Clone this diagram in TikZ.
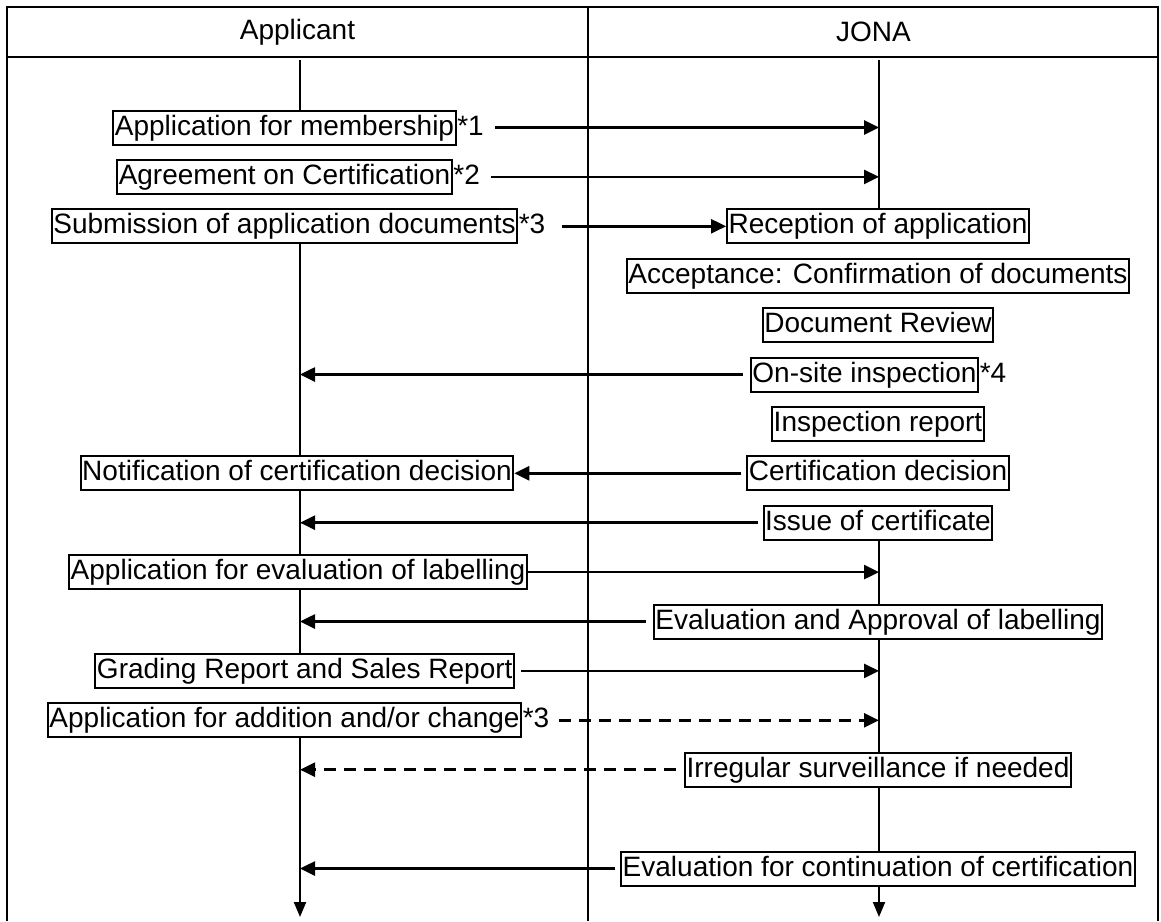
\documentclass[tikz,border=0pt]{standalone}
\usepackage{fontspec}
\setmainfont{Liberation Sans}
\usetikzlibrary{arrows.meta}
\begin{document}
\begin{tikzpicture}[x=1pt,y=-1pt,
  every node/.style={font=\fontsize{28}{34}\selectfont},
  bx/.style={draw, line width=2pt, inner xsep=1.5pt, inner ysep=2.5pt, text height=22pt, text depth=7pt},
  plain/.style={inner sep=0pt, text height=22pt, text depth=7pt},
  frame/.style={line width=2.5pt},
  life/.style={line width=1.8pt},
  msg/.style={line width=2.6pt, -{Triangle[length=15pt,width=14pt]}},
  dmsg/.style={msg, dash pattern=on 12pt off 8pt},
  endarrow/.style={line width=2pt, -{Triangle[length=15pt,width=12pt]}}]
\useasboundingbox (0,0) rectangle (1161,921);
% table frame
\draw[frame] (7,921) -- (7,7) -- (1158,7) -- (1158,921);
\draw[frame] (7,57) -- (1158,57);
\draw[frame] (588,7) -- (588,921);
\node (hA) at (297.5,32) {Applicant};
\node (hJ) at (873.5,32) {JONA};
% lifeline tops
\coordinate (Atop) at (300,60);
\coordinate (Jtop) at (879,60);
\coordinate (Abot) at (300,917);
\coordinate (Jbot) at (879,917);
% left boxes
\node[bx] (mem) at (284.5,127.5) {Application for membership};
\node[plain,anchor=west] (mem1) at ([xshift=0.5pt]mem.east) {*1};
\node[bx] (agr) at (284.5,176.9) {Agreement on Certification};
\node[plain,anchor=west] (agr2) at ([xshift=0.5pt]agr.east) {*2};
\node[bx] (sub) at (284.5,226.3) {Submission of application documents};
\node[plain,anchor=west] (sub3) at ([xshift=0.5pt]sub.east) {*3};
\node[bx] (notif) at (297,473.3) {Notification of certification decision};
\node[bx] (appeval) at (298,572.1) {Application for evaluation of labelling};
\node[bx] (grad) at (304.75,670.9) {Grading Report and Sales Report\hspace{11pt}};
\node[bx] (add) at (284.5,720.3) {Application for addition and/or change};
\node[plain,anchor=west] (add3) at ([xshift=0.5pt]add.east) {*3};
% right boxes
\node[bx] (rec) at (878,226.3) {Reception of application};
\node[bx] (acc) at (878,275.7) {Acceptance: Confirmation of documents};
\node[bx] (doc) at (878,325.1) {Document Review};
\node[bx] (ons) at (864.5,374.5) {On-site inspection};
\node[plain,anchor=west] (ons4) at ([xshift=0.5pt]ons.east) {*4};
\node[bx] (insp) at (878,423.9) {Inspection report};
\node[bx] (cert) at (878,473.3) {Certification decision};
\node[bx] (iss) at (878,522.7) {Issue of certificate};
\node[bx] (eva) at (878,621.5) {Evaluation and Approval of labelling};
\node[bx] (irr) at (878,769.7) {Irregular surveillance if needed};
\node[bx] (evc) at (878,868.5) {Evaluation for continuation of certification};
% Applicant lifeline
\draw[life] (Atop) -- (Atop |- mem.north);
\draw[life] (Atop |- sub.south) -- (Atop |- notif.north);
\draw[life] (Atop |- notif.south) -- (Atop |- appeval.north);
\draw[life] (Atop |- appeval.south) -- (Atop |- grad.north);
\draw[endarrow] (Atop |- add.south) -- (Abot);
% JONA lifeline
\draw[life] (Jtop) -- (Jtop |- rec.north);
\draw[life] (Jtop |- iss.south) -- (Jtop |- eva.north);
\draw[life] (Jtop |- eva.south) -- (Jtop |- irr.north);
\draw[life] (Jtop |- irr.south) -- (Jtop |- evc.north);
\draw[endarrow] (Jtop |- evc.south) -- (Jbot);
% messages
\draw[msg] ([xshift=11pt]mem1.east) -- (Jtop |- mem);
\draw[msg] ([xshift=11pt]agr2.east) -- (Jtop |- agr);
\draw[msg] ([xshift=16pt]sub3.east) -- (rec.west);
\draw[msg, shorten <=7pt] (ons.west) -- (Atop |- ons);
\draw[msg, shorten <=5pt] (cert.west) -- (notif.east);
\draw[msg, shorten <=5pt] (iss.west) -- (Atop |- iss);
\draw[msg] (appeval.east) -- (Jtop |- appeval);
\draw[msg, shorten <=7pt] (eva.west) -- (Atop |- eva);
\draw[msg] ([xshift=6pt]grad.east) -- (Jtop |- grad);
\draw[dmsg] ([xshift=10pt]add3.east) -- (Jtop |- add);
\draw[dmsg, shorten <=8pt] (irr.west) -- (Atop |- irr);
\draw[msg, shorten <=5pt] (evc.west) -- (Atop |- evc);
\end{tikzpicture}
\end{document}
